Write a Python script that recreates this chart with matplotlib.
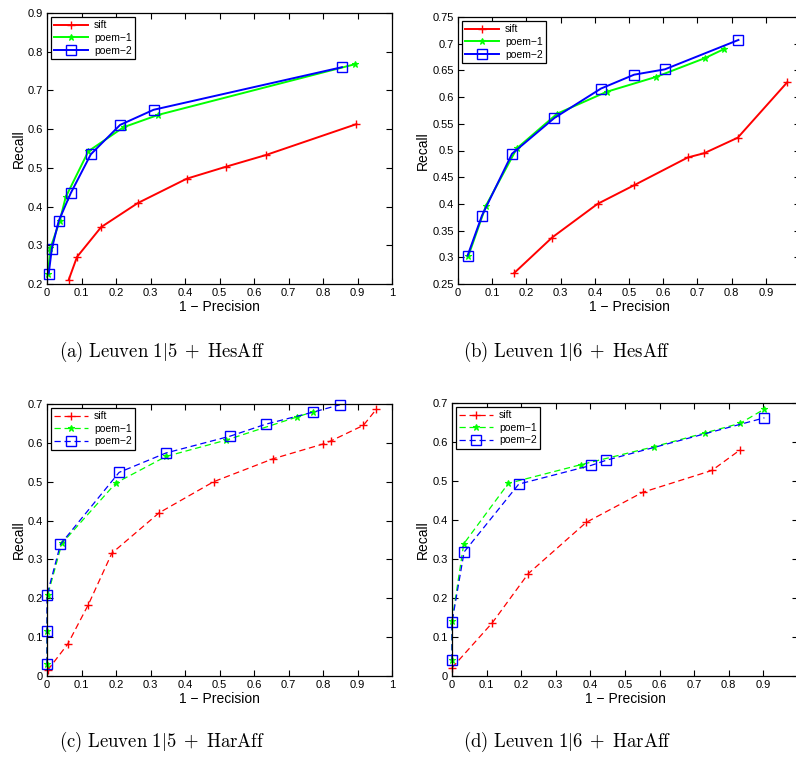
import matplotlib
matplotlib.use("Agg")
import matplotlib.pyplot as plt
from matplotlib.ticker import FuncFormatter, MultipleLocator

plt.rcParams["font.family"] = ["Liberation Sans", "DejaVu Sans"]
plt.rcParams["mathtext.fontset"] = "cm"

# ----------------------------------------------------
# DATA  (1 - precision, recall)
# ----------------------------------------------------
# (a) Leuven 1|5 + HesAff
a_sift_x = [0.063, 0.087, 0.157, 0.263, 0.405, 0.519, 0.634, 0.897]
a_sift_y = [0.211, 0.270, 0.347, 0.409, 0.472, 0.503, 0.533, 0.613]
a_p1_x = [0.003, 0.010, 0.037, 0.054, 0.120, 0.222, 0.323, 0.894]
a_p1_y = [0.227, 0.293, 0.363, 0.424, 0.543, 0.605, 0.637, 0.768]
a_p2_x = [0.005, 0.014, 0.034, 0.069, 0.127, 0.212, 0.309, 0.855]
a_p2_y = [0.227, 0.291, 0.363, 0.435, 0.535, 0.611, 0.650, 0.760]

# (b) Leuven 1|6 + HesAff
b_sift_x = [0.165, 0.275, 0.408, 0.515, 0.672, 0.720, 0.818, 0.963]
b_sift_y = [0.271, 0.337, 0.400, 0.435, 0.487, 0.495, 0.524, 0.628]
b_p1_x = [0.030, 0.082, 0.172, 0.290, 0.435, 0.580, 0.722, 0.778]
b_p1_y = [0.302, 0.397, 0.504, 0.569, 0.610, 0.638, 0.673, 0.690]
b_p2_x = [0.028, 0.070, 0.158, 0.282, 0.418, 0.515, 0.605, 0.820]
b_p2_y = [0.303, 0.378, 0.494, 0.561, 0.616, 0.642, 0.652, 0.707]

# (c) Leuven 1|5 + HarAff
c_sift_x = [0.002, 0.060, 0.120, 0.188, 0.325, 0.483, 0.655, 0.800, 0.823, 0.917, 0.955]
c_sift_y = [0.015, 0.082, 0.184, 0.316, 0.420, 0.500, 0.559, 0.597, 0.605, 0.645, 0.687]
c_p1_x = [0.000, 0.000, 0.002, 0.043, 0.200, 0.345, 0.519, 0.726, 0.771]
c_p1_y = [0.032, 0.117, 0.208, 0.341, 0.497, 0.565, 0.607, 0.667, 0.680]
c_p2_x = [0.000, 0.000, 0.000, 0.039, 0.209, 0.345, 0.530, 0.634, 0.771, 0.849]
c_p2_y = [0.032, 0.116, 0.208, 0.339, 0.524, 0.574, 0.617, 0.648, 0.679, 0.698]

# (d) Leuven 1|6 + HarAff
d_sift_x = [0.000, 0.117, 0.220, 0.388, 0.551, 0.751, 0.833]
d_sift_y = [0.021, 0.137, 0.262, 0.394, 0.471, 0.527, 0.580]
d_p1_x = [0.000, 0.000, 0.034, 0.163, 0.373, 0.584, 0.730, 0.833, 0.902]
d_p1_y = [0.040, 0.141, 0.339, 0.494, 0.542, 0.588, 0.623, 0.648, 0.684]
d_p2_x = [0.000, 0.000, 0.035, 0.193, 0.402, 0.445, 0.903]
d_p2_y = [0.040, 0.138, 0.318, 0.492, 0.540, 0.553, 0.662]

captions = [r"$\mathrm{(a)\ Leuven\ 1|5\;+\;HesAff}$",
            r"$\mathrm{(b)\ Leuven\ 1|6\;+\;HesAff}$",
            r"$\mathrm{(c)\ Leuven\ 1|5\;+\;HarAff}$",
            r"$\mathrm{(d)\ Leuven\ 1|6\;+\;HarAff}$"]

# ----------------------------------------------------
# PLOT
# ----------------------------------------------------
W, H = 796, 757
fig = plt.figure(figsize=(W / 100, H / 100), dpi=100)

def px_axes(x0, y0, x1, y1):
    return fig.add_axes([x0 / W, 1 - y1 / H, (x1 - x0) / W, (y1 - y0) / H])

fmt = FuncFormatter(lambda v, p: f"{v:g}")

def panel(ax, sets, dashed, lw, ylim, ystep):
    sx, sy, p1x, p1y, p2x, p2y = sets
    style = dict(lw=lw, clip_on=False)
    if dashed:
        style["dashes"] = (5, 3)
    ax.plot(sx, sy, color="red", marker="+", ms=6, mew=1.0,
            label="sift", **style)
    ax.plot(p1x, p1y, color="#00ff00", marker="*", ms=5, mew=0.8,
            label="poem\u22121", **style)
    ax.plot(p2x, p2y, color="blue", marker="s", ms=6.5, mew=1.0,
            mfc="none", label="poem\u22122", **style)
    ax.set_xlim(0, 1)
    ax.set_ylim(*ylim)
    ax.xaxis.set_major_locator(MultipleLocator(0.1))
    ax.yaxis.set_major_locator(MultipleLocator(ystep))
    ax.xaxis.set_major_formatter(fmt)
    ax.yaxis.set_major_formatter(fmt)
    ax.tick_params(direction="in", top=True, right=True, length=4,
                   width=0.8, labelsize=8, pad=3)
    for s in ax.spines.values():
        s.set_linewidth(0.9)
    ax.set_xlabel("1 \u2212 Precision", fontsize=10, labelpad=1)
    ax.set_ylabel("Recall", fontsize=10, labelpad=1.5)
    leg = ax.legend(loc="upper left", fontsize=7.5, handlelength=3.2,
                    fancybox=False, framealpha=1, edgecolor="black",
                    borderaxespad=0.35, labelspacing=0.25, borderpad=0.35,
                    handletextpad=0.6)
    leg.get_frame().set_linewidth(0.9)

ax_a = px_axes(47, 13, 392, 284)
panel(ax_a, (a_sift_x, a_sift_y, a_p1_x, a_p1_y, a_p2_x, a_p2_y),
      False, 1.4, (0.2, 0.9), 0.1)
ax_b = px_axes(458, 17, 800, 284)
panel(ax_b, (b_sift_x, b_sift_y, b_p1_x, b_p1_y, b_p2_x, b_p2_y),
      False, 1.4, (0.25, 0.75), 0.05)
ax_c = px_axes(47, 404, 392, 676)
panel(ax_c, (c_sift_x, c_sift_y, c_p1_x, c_p1_y, c_p2_x, c_p2_y),
      True, 0.9, (0, 0.7), 0.1)
ax_d = px_axes(452, 403, 798, 676)
panel(ax_d, (d_sift_x, d_sift_y, d_p1_x, d_p1_y, d_p2_x, d_p2_y),
      True, 0.9, (0, 0.7), 0.1)

# captions under each panel
for (cx, cy), txt in zip([(162, 352), (567, 352), (162, 742), (567, 742)], captions):
    fig.text(cx / W, 1 - cy / H, txt, ha="center", va="center", fontsize=13.5)

fig.savefig("out.png", dpi=100)
